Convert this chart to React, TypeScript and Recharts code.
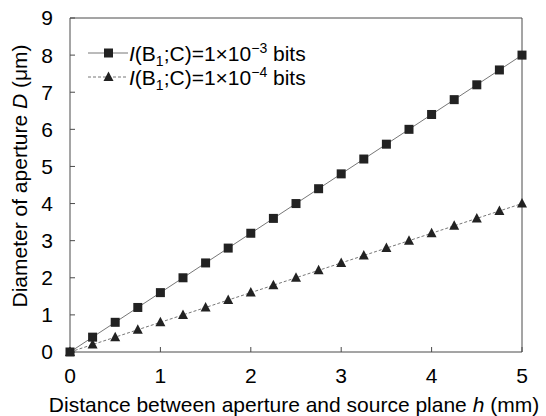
import React from 'react';
import { LineChart, Line, XAxis, YAxis, ReferenceLine } from 'recharts';

const hValues = [0, 0.25, 0.5, 0.75, 1, 1.25, 1.5, 1.75, 2, 2.25, 2.5, 2.75, 3, 3.25, 3.5, 3.75, 4, 4.25, 4.5, 4.75, 5];
const dSeries3 = [0, 0.4, 0.8, 1.2, 1.6, 2.0, 2.4, 2.8, 3.2, 3.6, 4.0, 4.4, 4.8, 5.2, 5.6, 6.0, 6.4, 6.8, 7.2, 7.6, 8.0];
const dSeries4 = [0, 0.2, 0.4, 0.6, 0.8, 1.0, 1.2, 1.4, 1.6, 1.8, 2.0, 2.2, 2.4, 2.6, 2.8, 3.0, 3.2, 3.4, 3.6, 3.8, 4.0];
const xTicks = [0, 1, 2, 3, 4, 5];
const yTicks = [0, 1, 2, 3, 4, 5, 6, 7, 8, 9];
const xMax = 5;
const yMax = 9;
const legendExponents = ['3', '4'];

const data = hValues.map((h, i) => ({ h, s3: dSeries3[i], s4: dSeries4[i] }));

const FONT = '"Liberation Sans", Arial, sans-serif';
const FS = 21;
const AXIS = '#4a4a4a';
const LINE = '#777';
const MARK = '#222';

const SquareDot = (props: any) => {
  const { cx, cy, index } = props;
  if (cx == null || cy == null) return <g key={`sq-${index}`} />;
  return <rect key={`sq-${index}`} x={cx - 4.5} y={cy - 4.5} width={9} height={9} fill={MARK} />;
};

const TriDot = (props: any) => {
  const { cx, cy, index } = props;
  if (cx == null || cy == null) return <g key={`tr-${index}`} />;
  return (
    <polygon
      key={`tr-${index}`}
      points={`${cx},${cy - 5.5} ${cx - 5},${cy + 4} ${cx + 5},${cy + 4}`}
      fill={MARK}
    />
  );
};

const LegendBox = () => {
  const rows = [
    { exp: legendExponents[0], shape: 'square', dash: undefined },
    { exp: legendExponents[1], shape: 'tri', dash: '3 2' },
  ];
  return (
    <div style={{ position: 'absolute', left: 88, top: 41, fontFamily: FONT, fontSize: FS, color: '#000' }}>
      {rows.map((r, i) => (
        <div key={i} style={{ display: 'flex', alignItems: 'center', height: 24 }}>
          <svg width={40} height={14} style={{ marginRight: 1 }}>
            <line x1={0} y1={7} x2={40} y2={7} stroke={LINE} strokeWidth={1} strokeDasharray={r.dash} />
            {r.shape === 'square' ? (
              <rect x={16} y={2.5} width={9} height={9} fill={MARK} />
            ) : (
              <polygon points="20.5,1.5 15.5,11 25.5,11" fill={MARK} />
            )}
          </svg>
          <span style={{ whiteSpace: 'nowrap', lineHeight: '21px' }}>
            <i>I</i>(B<sub style={{ fontSize: 14, lineHeight: 0 }}>1</sub>;C)=1×10<sup style={{ fontSize: 14, lineHeight: 0 }}>−{r.exp}</sup> bits
          </span>
        </div>
      ))}
    </div>
  );
};

const YLabel = (props: any) => {
  const vb = props.viewBox || {};
  const cx = (vb.x ?? 0) + 19;
  const cy = (vb.y ?? 0) + (vb.height ?? 0) / 2 - 9;
  return (
    <text
      x={cx}
      y={cy}
      transform={`rotate(-90, ${cx}, ${cy})`}
      textAnchor="middle"
      dominantBaseline="central"
      fontFamily={FONT}
      fontSize={FS}
      fill="#000"
    >
      Diameter of aperture <tspan fontStyle="italic">D</tspan> (μm)
    </text>
  );
};

const XLabel = (props: any) => {
  const vb = props.viewBox || {};
  const cx = (vb.x ?? 0) + (vb.width ?? 0) / 2 - 2;
  const cy = (vb.y ?? 0) + 52;
  return (
    <text x={cx} y={cy} textAnchor="middle" dominantBaseline="central" fontFamily={FONT} fontSize={FS} fill="#000">
      Distance between aperture and source plane <tspan fontStyle="italic">h</tspan> (mm)
    </text>
  );
};

export default function App() {
  return (
    <div style={{ position: 'absolute', left: 0, top: 0, width: 546, height: 416, background: '#fff' }}>
      <LineChart width={546} height={416} data={data} margin={{ top: 18, right: 24, bottom: 0, left: 0 }}>
        <XAxis
          dataKey="h"
          type="number"
          domain={[0, xMax]}
          ticks={xTicks}
          height={64}
          tickSize={-5}
          tickMargin={21}
          stroke={AXIS}
          tick={{ fill: '#000', fontSize: FS, fontFamily: FONT }}
          label={<XLabel />}
        />
        <YAxis
          type="number"
          domain={[0, yMax]}
          ticks={yTicks}
          width={70}
          tickSize={-5}
          tickMargin={22}
          stroke={AXIS}
          tick={{ fill: '#000', fontSize: FS, fontFamily: FONT }}
          label={<YLabel />}
        />
        <ReferenceLine y={yMax} stroke={AXIS} strokeWidth={1} />
        <ReferenceLine x={xMax} stroke={AXIS} strokeWidth={1} />
        <Line
          dataKey="s3"
          stroke={LINE}
          strokeWidth={1}
          dot={SquareDot}
          activeDot={false}
          isAnimationActive={false}
        />
        <Line
          dataKey="s4"
          stroke={LINE}
          strokeWidth={1}
          strokeDasharray="3 2"
          dot={TriDot}
          activeDot={false}
          isAnimationActive={false}
        />
      </LineChart>
      <LegendBox />
    </div>
  );
}
